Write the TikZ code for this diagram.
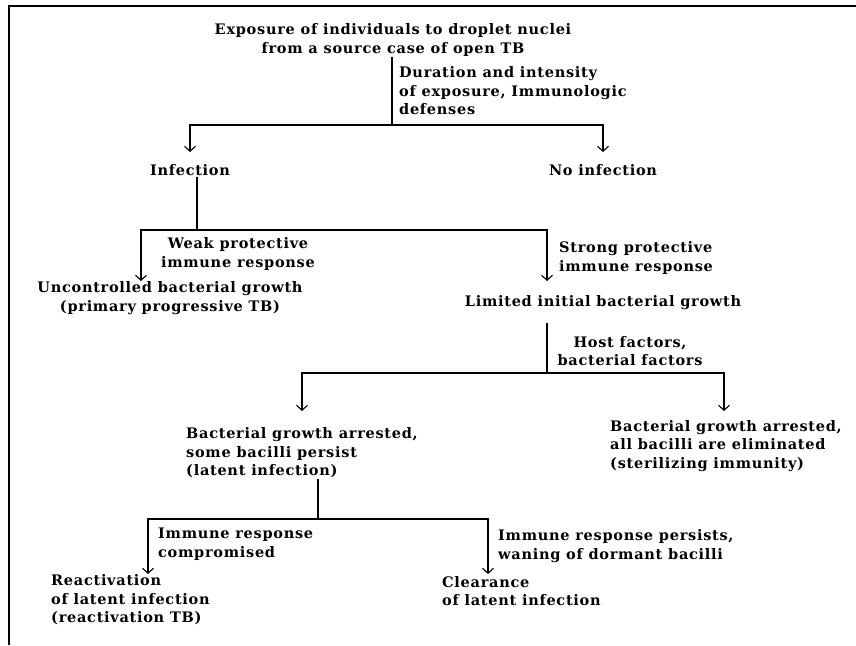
\documentclass[tikz,border=0pt]{standalone}
\usepackage{fontspec}
\setmainfont[LetterSpace=5]{DejaVu Serif}
\usetikzlibrary{arrows.meta}
\tikzset{
    step text/.style = {
        align=center, inner sep=1pt,
        font=\fontsize{14.5}{18.5}\selectfont\bfseries
    },
    side text/.style = {
        align=left, inner sep=1pt, anchor=west,
        font=\fontsize{14.5}{18.5}\selectfont\bfseries
    },
    flow/.style = {
        line width=1.3pt,
        -{Straight Barb[length=5pt,width=11pt,line width=1.1pt]}
    },
    link/.style = {
        line width=1.3pt
    }
}

\begin{document}
\begin{tikzpicture}[x=1pt,y=-1pt]

\useasboundingbox (0,0) rectangle (856,645);

% 1. frame
\draw [line width=2.4pt] (9,645) -- (9,6) -- (856,6);

% 2. steps of the tree
\node[step text] (expo)   at (393,40)  {Exposure of individuals to droplet nuclei\\from a source case of open TB};
\node[step text] (infec)  at (190,170) {Infection};
\node[step text] (noinf)  at (603,170) {No infection};
\node[step text] (uncon)  at (170,298) {Uncontrolled bacterial growth\\(primary progressive TB)};
\node[step text] (limit)  at (603,303) {Limited initial bacterial growth};
\node[side text] (persist) at (185,453) {Bacterial growth arrested,\\some bacilli persist\\(latent infection)};
\node[side text] (steril) at (609,446) {Bacterial growth arrested,\\all bacilli are eliminated\\(sterilizing immunity)};
\node[side text] (react)  at (50,600)  {Reactivation\\of latent infection\\(reactivation TB)};
\node[side text] (clear)  at (441,591) {Clearance\\of latent infection};

% 3. labels on the branches
\node[side text] (ldur)  at (398,91)  {Duration and intensity\\of exposure, Immunologic\\defenses};
\node[step text] (lweak) at (238,254) {Weak protective\\immune response};
\node[side text] (lstr)  at (558,258) {Strong protective\\immune response};
\node[step text] (lhost) at (630,351) {Host factors,\\bacterial factors};
\node[side text] (lcomp) at (157,544) {Immune response\\compromised};
\node[side text] (lpers) at (497,546) {Immune response persists,\\waning of dormant bacilli};

% 4. junctions and arrow tips
\coordinate (j1) at (392,125);
\coordinate (j2) at (197,230);
\coordinate (j3) at (547,373);
\coordinate (j4) at (318,519);
\coordinate (tInf)   at (190,152);
\coordinate (tNo)    at (603,152);
\coordinate (tUnc)   at (141,281);
\coordinate (tLim)   at (547,281);
\coordinate (tPers)  at (302,411);
\coordinate (tSter)  at (724,411);
\coordinate (tReac)  at (148,574);
\coordinate (tClear) at (488,574);

% 5. connectors
\draw [link] (expo.south -| j1) -- (j1);
\draw [flow] (j1) -| (tInf);
\draw [flow] (j1) -| (tNo);
\draw [link] (infec.south -| j2) -- (j2);
\draw [flow] (j2) -| (tUnc);
\draw [flow] (j2) -| (tLim);
\draw [link,shorten <=12pt] (limit.south -| j3) -- (j3);
\draw [flow] (j3) -| (tPers);
\draw [flow] (j3) -| (tSter);
\draw [link] (persist.south -| j4) -- (j4);
\draw [flow] (j4) -| (tReac);
\draw [flow] (j4) -| (tClear);

\end{tikzpicture}
\end{document}
